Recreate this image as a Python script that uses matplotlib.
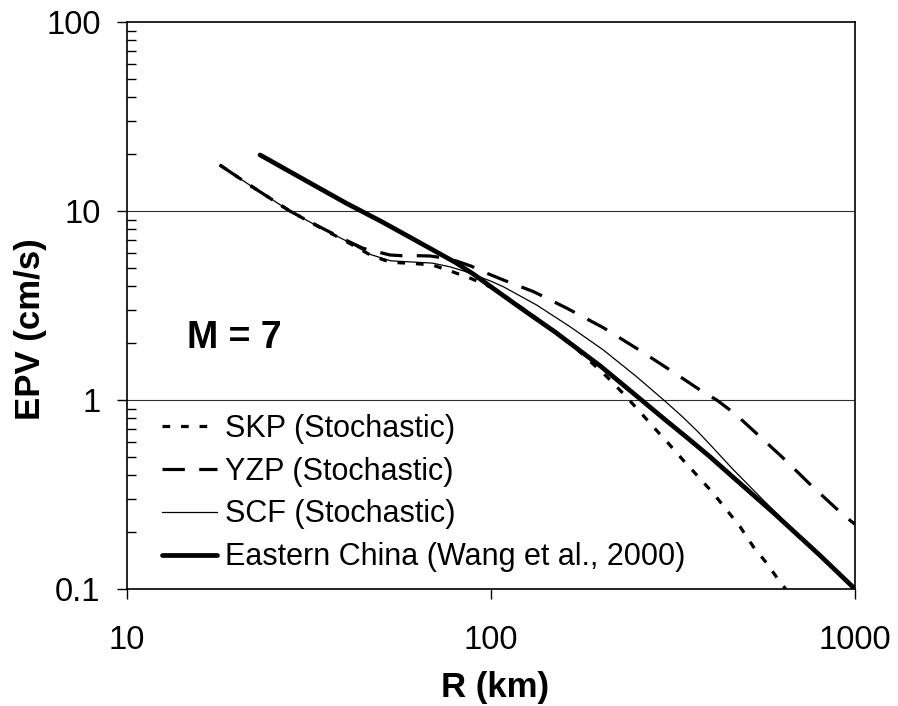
import matplotlib
matplotlib.use("Agg")
import matplotlib.pyplot as plt
from matplotlib.ticker import LogLocator, NullFormatter, FixedLocator, FixedFormatter

plt.rcParams['font.family'] = ['Liberation Sans', 'DejaVu Sans']

# Distance R (km) and peak velocity EPV (cm/s) for M = 7
skp_r = [18, 22, 28, 34, 40, 47, 53, 60, 69, 76, 88, 100, 113, 126, 142, 170, 208,
         231, 254, 279, 307, 337, 371, 408, 444, 483, 526, 572, 622, 645]
skp_v = [17.5, 13.5, 10.0, 8.15, 6.9, 5.8, 5.35, 5.29, 5.18, 4.87, 4.4, 3.95, 3.38, 2.93,
         2.46, 1.9, 1.33, 1.08, 0.885, 0.722, 0.59, 0.481, 0.393, 0.321, 0.262, 0.214,
         0.167, 0.137, 0.109, 0.1]

yzp_r = [18, 22, 28, 34, 40, 44.5, 52.8, 57, 63, 68, 74, 80, 88, 97, 108, 131, 161, 203,
         253, 314, 383, 417, 470, 521, 630, 762, 921, 1000]
yzp_v = [17.5, 13.5, 10.0, 8.2, 7.0, 6.35, 5.85, 5.8, 5.8, 5.78, 5.65, 5.45, 5.12, 4.7,
         4.32, 3.74, 3.07, 2.42, 1.86, 1.42, 1.10, 1.0, 0.84, 0.70, 0.50, 0.35, 0.25, 0.22]

scf_r = [18, 22, 28, 34, 40, 46.5, 53, 61, 69, 77, 84, 90, 100, 108, 133.5, 165, 203.5,
         251, 300, 337, 370, 400, 462, 560, 675, 800, 1000]
scf_v = [17.5, 13.5, 10.0, 8.15, 6.95, 5.9, 5.45, 5.37, 5.3, 5.07, 4.82, 4.6, 4.25, 3.98,
         3.18, 2.44, 1.84, 1.33, 0.99, 0.81, 0.68, 0.58, 0.43, 0.295, 0.207, 0.150, 0.100]

ec_r = [23.2, 30, 40, 50, 60, 70, 80, 90, 100, 120, 150, 200, 259, 300, 350, 400, 462,
        600, 800, 1000]
ec_v = [19.8, 15.0, 11.0, 8.8, 7.25, 6.15, 5.33, 4.6, 3.97, 3.09, 2.29, 1.51, 1.0, 0.79,
        0.62, 0.5, 0.391, 0.251, 0.151, 0.1]

labels = ["SKP (Stochastic)", "YZP (Stochastic)", "SCF (Stochastic)",
          "Eastern China (Wang et al., 2000)"]

x_ticks = [10, 100, 1000]
x_ticklabels = ["10", "100", "1000"]
y_ticks = [0.1, 1, 10, 100]
y_ticklabels = ["0.1", "1", "10", "100"]

fig = plt.figure(figsize=(8.98, 7.06), dpi=100)
ax = fig.add_axes([127 / 898, 1 - 589 / 706, 728 / 898, 567 / 706])

ax.set_xscale('log')
ax.set_yscale('log')
ax.set_xlim(10, 1000)
ax.set_ylim(0.1, 100)

# horizontal reference lines at each inner decade
for yv in y_ticks[1:-1]:
    ax.axhline(yv, color='#303030', lw=0.8, zorder=1)

ax.plot(skp_r, skp_v, color='black', lw=2.3, linestyle=(0, (2.4, 3.4)),
        label=labels[0], zorder=3)
ax.plot(yzp_r, yzp_v, color='black', lw=2.3, linestyle=(0, (7, 4.5)),
        label=labels[1], zorder=3)
ax.plot(scf_r, scf_v, color='black', lw=0.9, label=labels[2], zorder=3)
ax.plot(ec_r, ec_v, color='black', lw=3.4, solid_capstyle='round',
        label=labels[3], zorder=4)

# axis ticks
ax.xaxis.set_major_locator(FixedLocator(x_ticks))
ax.xaxis.set_major_formatter(FixedFormatter(x_ticklabels))
ax.xaxis.set_minor_locator(FixedLocator([]))
ax.yaxis.set_major_locator(FixedLocator(y_ticks))
ax.yaxis.set_major_formatter(FixedFormatter(y_ticklabels))
ax.yaxis.set_minor_locator(LogLocator(base=10, subs=range(2, 10)))
ax.yaxis.set_minor_formatter(NullFormatter())

ax.tick_params(axis='both', which='major', direction='out', length=7, width=1,
               labelsize=23.5, colors='black')
ax.tick_params(axis='x', which='major', pad=19)
ax.tick_params(axis='y', which='major', pad=12)
ax.tick_params(axis='y', which='minor', direction='in', length=6.5, width=1)
ax.tick_params(top=False, right=False, which='both')

for side in ['left', 'bottom', 'top', 'right']:
    ax.spines[side].set_linewidth(1.2)
    ax.spines[side].set_color('black')

ax.set_xlabel("R (km)", fontsize=25, fontweight='bold')
ax.xaxis.label.set_va('center')
ax.xaxis.set_label_coords(0.5055, -0.1746)
ax.set_ylabel("EPV (cm/s)", fontsize=25, fontweight='bold')
ax.yaxis.label.set_va('center')
ax.yaxis.label.set_ha('center')
ax.yaxis.set_label_coords(-0.1332, 0.4586)

ax.text(0.082, 0.443, "M = 7", transform=ax.transAxes, fontsize=27,
        fontweight='bold', va='center', ha='left')

leg = ax.legend(loc='upper left', bbox_to_anchor=(0.048, 0.309), frameon=False,
                fontsize=22, handlelength=1.8, handletextpad=0.25,
                labelspacing=0.42, borderaxespad=0, borderpad=0)

fig.savefig("out.png", dpi=100)
